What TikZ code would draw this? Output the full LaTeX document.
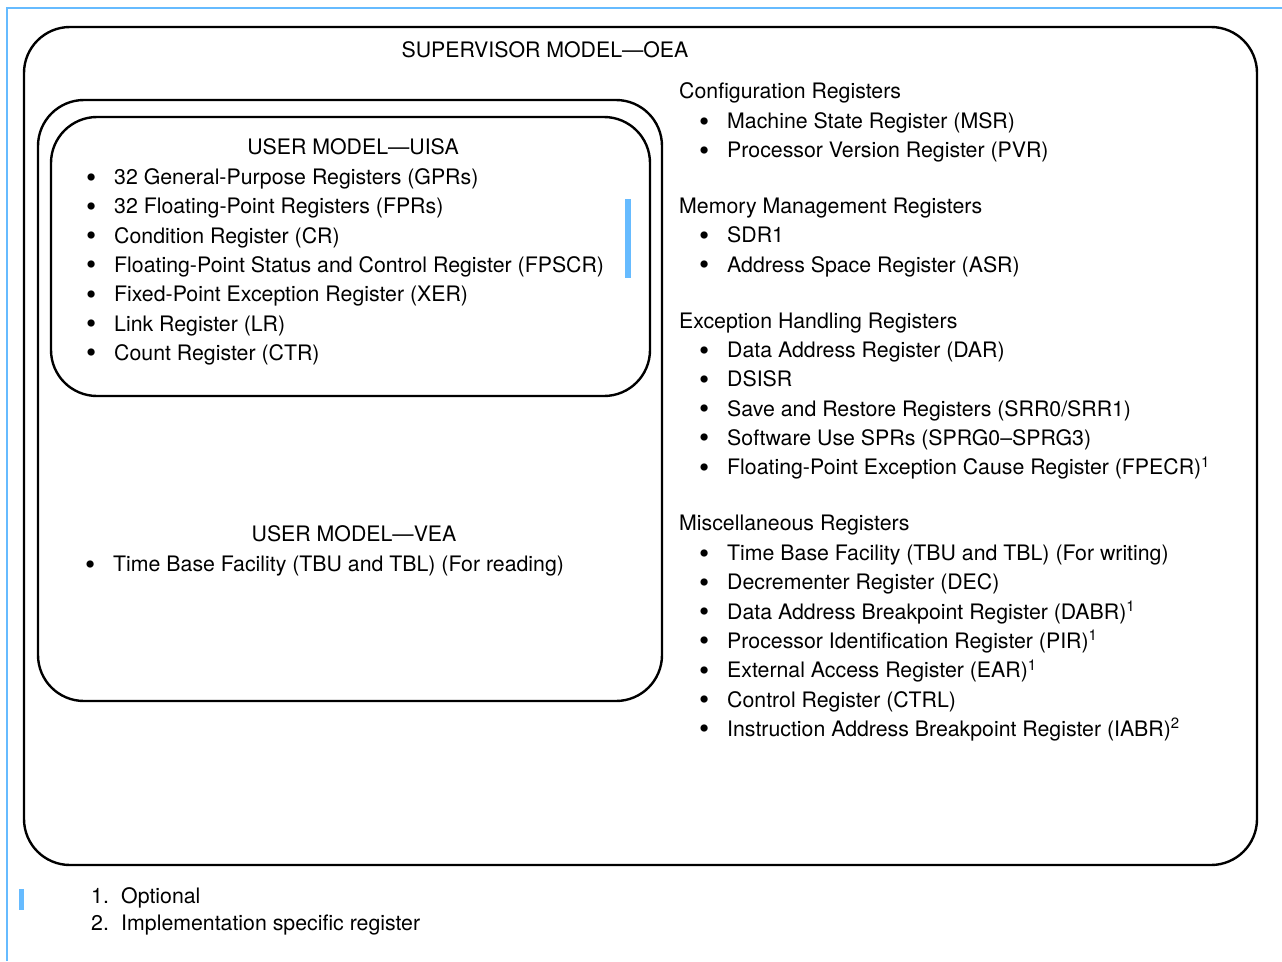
\documentclass[tikz,border=0pt]{standalone}
\usepackage{fontspec}
\setmainfont{TeX Gyre Heros}
\definecolor{barblue}{RGB}{102,187,255}
\newcommand{\bigdot}{\raisebox{-2.5pt}{\fontsize{29}{29}\selectfont\textbullet}}
\tikzset{
  modelbox/.style={draw, line width=2.4pt, rounded corners=46pt},
  txt/.style={anchor=west, inner sep=0pt, text height=15pt, text depth=0pt,
    font=\fontsize{21.3}{25}\selectfont},
  title/.style={txt, anchor=center},
  item/.style={txt, execute at begin node={\makebox[28pt][l]{\bigdot}}}
}
\begin{document}
\begin{tikzpicture}[x=1pt,y=-1pt]
  \useasboundingbox (0,0) rectangle (1282,961);
  % page frame and change bars
  \draw[barblue, line width=2pt] (6.5,961) -- (6.5,7.5) -- (1282,7.5);
  \fill[barblue] (625,199) rectangle (631,278);
  \fill[barblue] (19,889) rectangle (24,910);
  % the three models
  \draw[modelbox] (24,27) rectangle (1257,865);
  \draw[modelbox] (38,100) rectangle (662,701);
  \draw[modelbox] (51,117) rectangle (650,396);
  \node[title] (oea) at (545,50) {SUPERVISOR MODEL\textemdash OEA};
  \node[title] (uisa) at (353,147) {USER MODEL\textemdash UISA};
  \node[title] (vea) at (354,534) {USER MODEL\textemdash VEA};
  % user model, UISA
  \foreach \t [count=\i from 0] in {32 General-Purpose Registers (GPRs),
      32 Floating-Point Registers (FPRs), Condition Register (CR),
      Floating-Point Status and Control Register (FPSCR),
      Fixed-Point Exception Register (XER), Link Register (LR),
      Count Register (CTR)} {
    \node[item] (uisa\i) at (86,{177+29.3*\i}) {\t};
  }
  % user model, VEA
  \node[item] (vea0) at (85,564) {Time Base Facility (TBU and TBL) (For reading)};
  % supervisor model, OEA
  \node[txt] (cfg) at (679,91) {Configuration Registers};
  \foreach \t [count=\i from 0] in {Machine State Register (MSR),
      Processor Version Register (PVR)} {
    \node[item] (cfg\i) at (699,{121+29.3*\i}) {\t};
  }
  \node[txt] (mem) at (679,206) {Memory Management Registers};
  \foreach \t [count=\i from 0] in {SDR1, Address Space Register (ASR)} {
    \node[item] (mem\i) at (699,{235+29.5*\i}) {\t};
  }
  \node[txt] (exc) at (679,321) {Exception Handling Registers};
  \foreach \t [count=\i from 0] in {Data Address Register (DAR), DSISR,
      Save and Restore Registers (SRR0/SRR1),
      Software Use SPRs (SPRG0\textendash SPRG3),
      Floating-Point Exception Cause Register (FPECR)\textsuperscript{1}} {
    \node[item] (exc\i) at (699,{350+29.3*\i}) {\t};
  }
  \node[txt] (misc) at (679,523) {Miscellaneous Registers};
  \foreach \t [count=\i from 0] in {Time Base Facility (TBU and TBL) (For writing),
      Decrementer Register (DEC),
      Data Address Breakpoint Register (DABR)\textsuperscript{1},
      Processor Identification Register (PIR)\textsuperscript{1},
      External Access Register (EAR)\textsuperscript{1},
      Control Register (CTRL),
      Instruction Address Breakpoint Register (IABR)\textsuperscript{2}} {
    \node[item] (misc\i) at (699,{553+29.3*\i}) {\t};
  }
  % footnotes
  \node[txt] (note1) at (91,896) {\makebox[30pt][l]{1.}Optional};
  \node[txt] (note2) at (91,923) {\makebox[30pt][l]{2.}Implementation specific register};
\end{tikzpicture}
\end{document}
